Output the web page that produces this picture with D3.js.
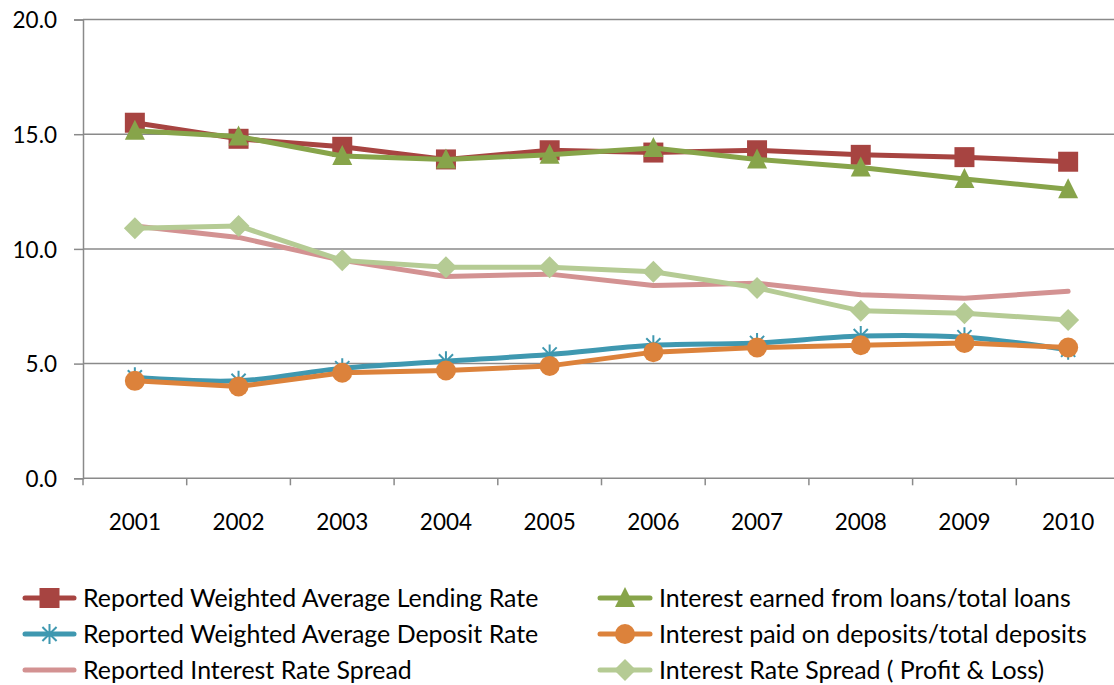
<!DOCTYPE html>
<html>
<head>
<meta charset="utf-8">
<script src="https://cdn.jsdelivr.net/npm/d3@7"></script>
<style>
  html, body { margin: 0; padding: 0; background: #fff; }
  svg { display: block; font-family: Lato, "Open Sans", sans-serif; }
</style>
</head>
<body>
<svg id="chart" width="1114" height="685"></svg>
<script>
// Years on the category axis
const years = ["2001","2002","2003","2004","2005","2006","2007","2008","2009","2010"];

// Rates (%) per year
const lendingRate   = [15.5, 14.8, 14.45, 13.9, 14.3, 14.2, 14.3, 14.1, 14.0, 13.8];
const loanYield     = [15.15, 14.9, 14.05, 13.9, 14.1, 14.4, 13.9, 13.55, 13.05, 12.6];
const depositRate   = [4.4, 4.25, 4.8, 5.1, 5.4, 5.8, 5.9, 6.2, 6.15, 5.6];
const depositCost   = [4.25, 4.0, 4.6, 4.7, 4.9, 5.5, 5.7, 5.8, 5.9, 5.7];
const reportedSpread= [11.0, 10.5, 9.5, 8.8, 8.9, 8.4, 8.5, 8.0, 7.85, 8.15];
const plSpread      = [10.9, 11.0, 9.5, 9.2, 9.2, 9.0, 8.3, 7.3, 7.2, 6.9];

const yTicks = [0, 5, 10, 15, 20];

const seriesNames = [
  "Reported Weighted Average Lending Rate",
  "Interest earned from loans/total loans",
  "Reported Weighted Average Deposit Rate",
  "Interest paid on deposits/total deposits",
  "Reported Interest Rate Spread",
  "Interest Rate Spread ( Profit & Loss)"
];

const series = [
  { name: seriesNames[4], values: reportedSpread, color: "#D39292", marker: "none",     curve: d3.curveLinear },
  { name: seriesNames[5], values: plSpread,       color: "#B5CB94", marker: "diamond",  curve: d3.curveLinear },
  { name: seriesNames[2], values: depositRate,    color: "#3F98B0", marker: "asterisk", curve: d3.curveCatmullRom },
  { name: seriesNames[3], values: depositCost,    color: "#DC823B", marker: "circle",   curve: d3.curveLinear },
  { name: seriesNames[0], values: lendingRate,    color: "#A74441", marker: "square",   curve: d3.curveLinear },
  { name: seriesNames[1], values: loanYield,      color: "#87A44A", marker: "triangle", curve: d3.curveLinear }
];

const svg = d3.select("#chart");
const plotLeft = 83, plotTop = 19.5, plotBottom = 478.3, bandW = 103.7;
const plotRight = 1114;

const x = d3.scaleBand().domain(years).range([plotLeft, plotLeft + bandW * years.length]).padding(0);
const cx = d => x(d) + x.bandwidth() / 2;
const y = d3.scaleLinear().domain([0, 20]).range([plotBottom, plotTop]);

const gridColor = "#8A8A8A";

// Horizontal gridlines
svg.append("g").selectAll("line")
  .data(yTicks.filter(t => t > 0))
  .join("line")
  .attr("x1", plotLeft).attr("x2", plotRight)
  .attr("y1", d => y(d)).attr("y2", d => y(d))
  .attr("stroke", gridColor).attr("stroke-width", 1.5);

// Y axis
const yAxis = svg.append("g")
  .attr("transform", `translate(${plotLeft},0)`)
  .call(d3.axisLeft(y).tickValues(yTicks).tickFormat(d3.format(".1f")).tickSize(9).tickPadding(17));
yAxis.select(".domain").attr("stroke", gridColor).attr("stroke-width", 1.5);
yAxis.selectAll(".tick line").attr("stroke", gridColor).attr("stroke-width", 1.5);
yAxis.selectAll(".tick text").attr("font-size", 22.5).attr("fill", "#000")
  .attr("font-family", "Lato, sans-serif").attr("dy", "0.36em");

// X axis
const xAxis = svg.append("g")
  .attr("transform", `translate(0,${plotBottom})`)
  .call(d3.axisBottom(x).tickSize(0).tickPadding(36));
xAxis.select(".domain").remove();
xAxis.selectAll(".tick text").attr("font-size", 22.5).attr("fill", "#000")
  .attr("font-family", "Lato, sans-serif");
svg.append("line")
  .attr("x1", plotLeft).attr("x2", plotRight).attr("y1", plotBottom).attr("y2", plotBottom)
  .attr("stroke", gridColor).attr("stroke-width", 1.5);
svg.append("g").selectAll("line")
  .data(years)
  .join("line")
  .attr("x1", d => x(d)).attr("x2", d => x(d))
  .attr("y1", plotBottom).attr("y2", plotBottom + 7)
  .attr("stroke", gridColor).attr("stroke-width", 1.5);

// Marker drawing
function drawMarker(g, type, color, px, py) {
  if (type === "square") {
    g.append("rect").attr("x", px - 10).attr("y", py - 10).attr("width", 20).attr("height", 20)
      .attr("fill", color);
  } else if (type === "triangle") {
    g.append("path").attr("d", `M${px},${py - 11}L${px + 10},${py + 9}L${px - 10},${py + 9}Z`)
      .attr("fill", color);
  } else if (type === "circle") {
    g.append("circle").attr("cx", px).attr("cy", py).attr("r", 10).attr("fill", color);
  } else if (type === "diamond") {
    g.append("path").attr("d", `M${px},${py - 11}L${px + 11},${py}L${px},${py + 11}L${px - 11},${py}Z`)
      .attr("fill", color);
  } else if (type === "asterisk") {
    const r = 10;
    const path = [];
    [45, 90, 135].forEach(a => {
      const t = a * Math.PI / 180;
      path.push(`M${px - r * Math.cos(t)},${py - r * Math.sin(t)}L${px + r * Math.cos(t)},${py + r * Math.sin(t)}`);
    });
    g.append("path").attr("d", path.join("")).attr("stroke", color).attr("stroke-width", 2).attr("fill", "none");
  }
}

// Series lines and markers
const plot = svg.append("g");
series.forEach(s => {
  const line = d3.line().x((d, i) => cx(years[i])).y(d => y(d)).curve(s.curve);
  const g = plot.append("g");
  g.append("path").datum(s.values).attr("d", line)
    .attr("fill", "none").attr("stroke", s.color).attr("stroke-width", 5)
    .attr("stroke-linejoin", "round").attr("stroke-linecap", "round");
  s.values.forEach((v, i) => drawMarker(g, s.marker, s.color, cx(years[i]), y(v)));
});

// Legend (two columns, three rows)
const legendOrder = [
  [series[4], series[5]],
  [series[2], series[3]],
  [series[0], series[1]]
];
const colX = [[25, 74, 83], [600, 650, 659]];
const rowY = [598, 634, 670];
const legend = svg.append("g");
legendOrder.forEach((pair, r) => {
  pair.forEach((s, c) => {
    const [x1, x2, tx] = colX[c];
    const g = legend.append("g");
    g.append("line").attr("x1", x1).attr("x2", x2).attr("y1", rowY[r]).attr("y2", rowY[r])
      .attr("stroke", s.color).attr("stroke-width", 5).attr("stroke-linecap", "round");
    drawMarker(g, s.marker, s.color, (x1 + x2) / 2, rowY[r]);
    g.append("text").attr("x", tx).attr("y", rowY[r] + 8.5)
      .attr("font-size", 24.9).attr("fill", "#000").text(s.name);
  });
});
</script>
</body>
</html>
